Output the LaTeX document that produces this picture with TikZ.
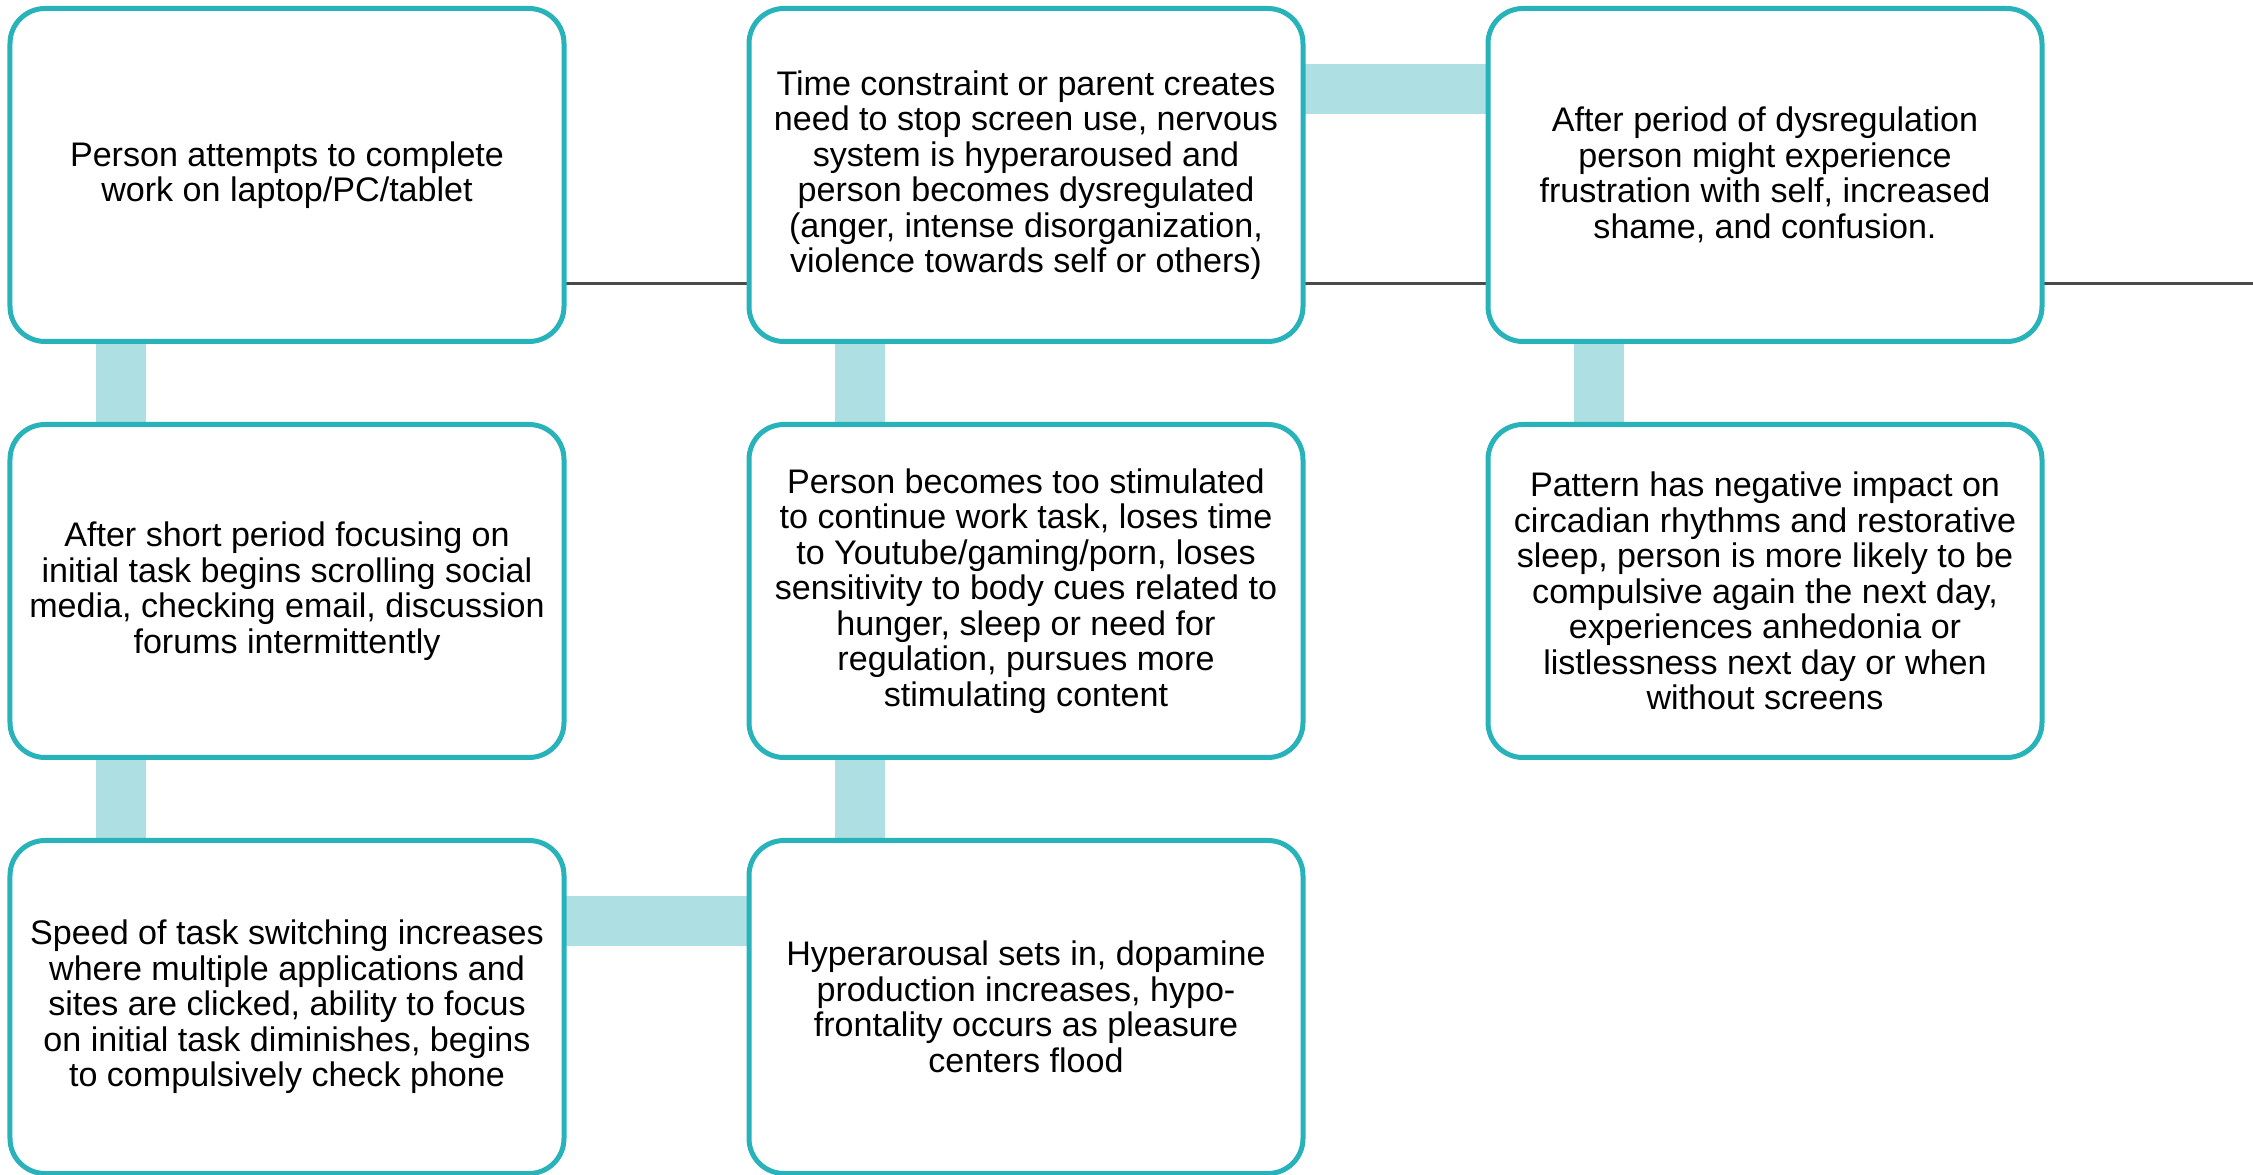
\documentclass[tikz,border=0pt]{standalone}
\usepackage{fontspec}
\setmainfont{Liberation Sans}
\usepackage{tikz}
\usetikzlibrary{calc,backgrounds}
\definecolor{boxteal}{RGB}{40,178,186}
\definecolor{barteal}{RGB}{174,223,226}
\definecolor{darkline}{RGB}{74,74,74}

\begin{document}
\begin{tikzpicture}[
	stepbox/.style={draw=boxteal, line width=0.05cm, fill=white, rounded corners=0.35cm,
		minimum width=5.54cm, minimum height=3.33cm, inner sep=0pt, outer sep=0pt, align=center,
		font=\fontsize{9.7pt}{10.1pt}\selectfont},
	bar/.style={draw=barteal, line width=0.5cm},
	thinline/.style={draw=darkline, line width=0.027cm}
	]
			%%%%% START %%%%%
			
			\useasboundingbox (0, 0) rectangle (22.53, 11.74);
			
			\node[stepbox] (work) at (2.87, 9.99) {Person attempts to complete\\work on laptop/PC/tablet};
			\node[stepbox] (scroll) at (2.87, 5.83) {After short period focusing on\\initial task begins scrolling social\\media, checking email, discussion\\forums intermittently};
			\node[stepbox] (switch) at (2.87, 1.67) {Speed of task switching increases\\where multiple applications and\\sites are clicked, ability to focus\\on initial task diminishes, begins\\to compulsively check phone};
			
			\node[stepbox] (hyper) at (10.26, 1.67) {Hyperarousal sets in, dopamine\\production increases, hypo-\\frontality occurs as pleasure\\centers flood};
			\node[stepbox] (stim) at (10.26, 5.83) {Person becomes too stimulated\\to continue work task, loses time\\to Youtube/gaming/porn, loses\\sensitivity to body cues related to\\hunger, sleep or need for\\regulation, pursues more\\stimulating content};
			\node[stepbox] (dysreg) at (10.26, 9.99) {Time constraint or parent creates\\need to stop screen use, nervous\\system is hyperaroused and\\person becomes dysregulated\\(anger, intense disorganization,\\violence towards self or others)};
			
			\node[stepbox] (shame) at (17.65, 9.99) {After period of dysregulation\\person might experience\\frustration with self, increased\\shame, and confusion.};
			\node[stepbox] (sleep) at (17.65, 5.83) {Pattern has negative impact on\\circadian rhythms and restorative\\sleep, person is more likely to be\\compulsive again the next day,\\experiences anhedonia or\\listlessness next day or when\\without screens};
			
			\coordinate (lineend) at (22.53, 8.905);
			
			\begin{scope}[on background layer]
			% thin line along the top row
			\draw[thinline] ([yshift=0.58cm]work.south east) -- ([yshift=0.58cm]dysreg.south west);
			\draw[thinline] ([yshift=0.58cm]dysreg.south east) -- ([yshift=0.58cm]shame.south west);
			\draw[thinline] ([yshift=0.58cm]shame.south east) -- (lineend);
			
			% flow bars
			\draw[bar] ([xshift=1.11cm]work.south west) -- ([xshift=1.11cm]scroll.north west);
			\draw[bar] ([xshift=1.11cm]scroll.south west) -- ([xshift=1.11cm]switch.north west);
			\draw[bar] ([yshift=-0.81cm]switch.north east) -- ([yshift=-0.81cm]hyper.north west);
			\draw[bar] ([xshift=1.11cm]hyper.north west) -- ([xshift=1.11cm]stim.south west);
			\draw[bar] ([xshift=1.11cm]stim.north west) -- ([xshift=1.11cm]dysreg.south west);
			\draw[bar] ([yshift=-0.81cm]dysreg.north east) -- ([yshift=-0.81cm]shame.north west);
			\draw[bar] ([xshift=1.11cm]shame.south west) -- ([xshift=1.11cm]sleep.north west);
			\end{scope}
			
			%%%%% END %%%%%
\end{tikzpicture}
\end{document}
